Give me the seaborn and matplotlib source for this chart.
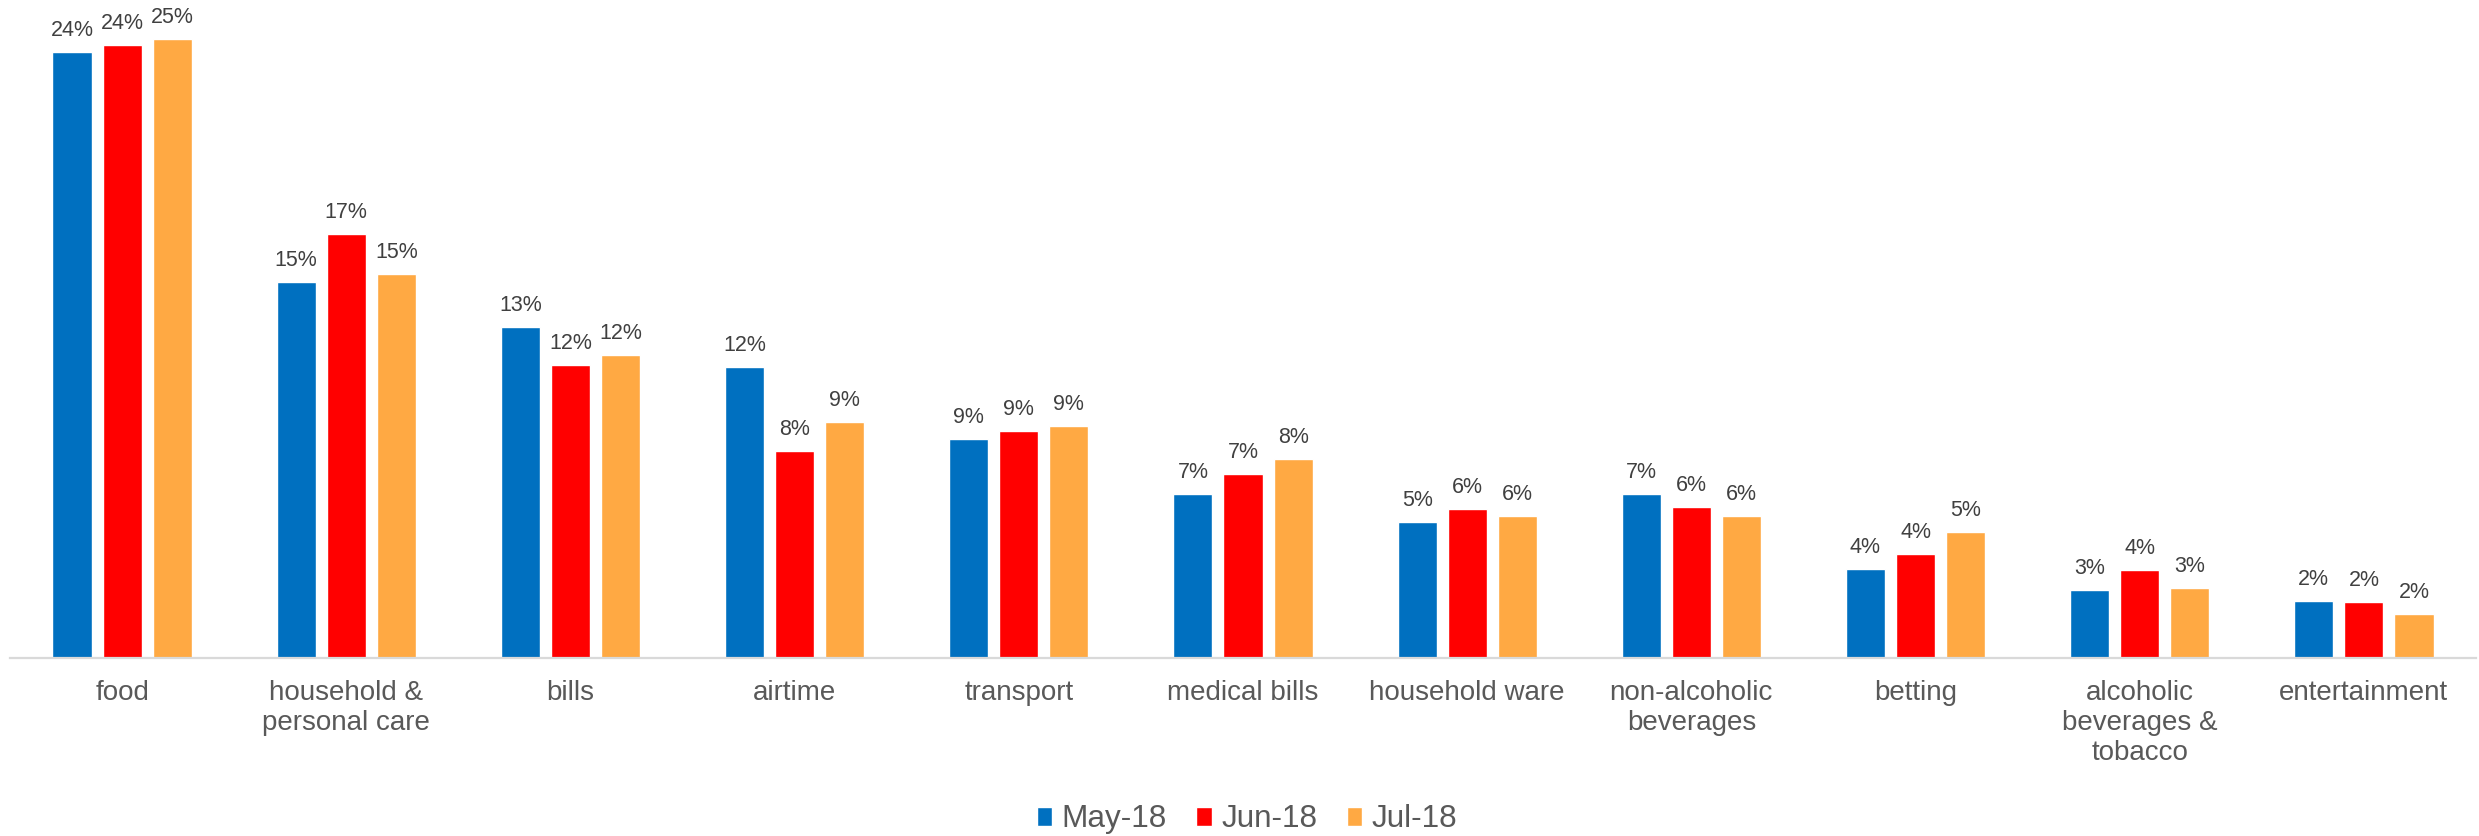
import matplotlib
matplotlib.use("Agg")
import matplotlib.pyplot as plt
import seaborn as sns
import pandas as pd

# Share of spending by category, per month (%)
categories = ["food", "household & personal care", "bills", "airtime", "transport",
              "medical bills", "household ware", "non-alcoholic beverages", "betting",
              "alcoholic beverages & tobacco", "entertainment"]
tick_labels = ["food", "household &\npersonal care", "bills", "airtime", "transport",
               "medical bills", "household ware", "non-alcoholic\nbeverages", "betting",
               "alcoholic\nbeverages &\ntobacco", "entertainment"]
months = ["May-18", "Jun-18", "Jul-18"]
may_18 = [24.14, 14.98, 13.19, 11.59, 8.73, 6.52, 5.41, 6.52, 3.53, 2.70, 2.27]
jun_18 = [24.42, 16.89, 11.67, 8.25, 9.04, 7.34, 5.94, 6.02, 4.14, 3.51, 2.23]
jul_18 = [24.66, 15.30, 12.07, 9.41, 9.23, 7.93, 5.66, 5.66, 5.01, 2.79, 1.75]
colors = ["#0070C0", "#FF0000", "#FFA943"]

df = pd.DataFrame({
    "category": categories * 3,
    "month": [m for m in months for _ in categories],
    "share": may_18 + jun_18 + jul_18,
})

sns.set_theme(style="white")
plt.rcParams["font.family"] = ["Liberation Sans", "DejaVu Sans"]

fig = plt.figure(figsize=(24.79, 8.36), dpi=100)
ax = fig.add_axes([10 / 2479, 0.2129, 2466 / 2479, 0.7806])

sns.barplot(data=df, x="category", y="share", hue="month", order=categories,
            hue_order=months, palette=colors, width=0.67, gap=0.22,
            saturation=1, ax=ax, legend=True)

# Rounded percentage above each bar
for cont in ax.containers:
    ax.bar_label(cont, labels=[f"{v:.0f}%" for v in cont.datavalues],
                 padding=8.0, fontsize=15.5, color="#404040")

ax.set_xlim(-0.5, len(categories) - 0.5)
ax.set_ylim(0, 26)
ax.set_xlabel("")
ax.set_ylabel("")
ax.set_yticks([])
ax.set_xticks(range(len(categories)))
ax.set_xticklabels(tick_labels, fontsize=20, color="#595959", linespacing=1.22)
ax.tick_params(axis="x", length=0, pad=15.5)
for side in ["top", "right", "left"]:
    ax.spines[side].set_visible(False)
ax.spines["bottom"].set_color("#D9D9D9")
ax.spines["bottom"].set_linewidth(1.6)

# Legend centred below the chart
handles, labels = ax.get_legend_handles_labels()
ax.get_legend().remove()
leg = fig.legend(handles, labels, loc="center", bbox_to_anchor=(0.503, 0.02),
                 ncol=3, frameon=False, fontsize=22.7, handlelength=0.48,
                 handleheight=0.54, handletextpad=0.3, columnspacing=0.95)
for t in leg.get_texts():
    t.set_color("#595959")

fig.savefig("out.png", dpi=100)
